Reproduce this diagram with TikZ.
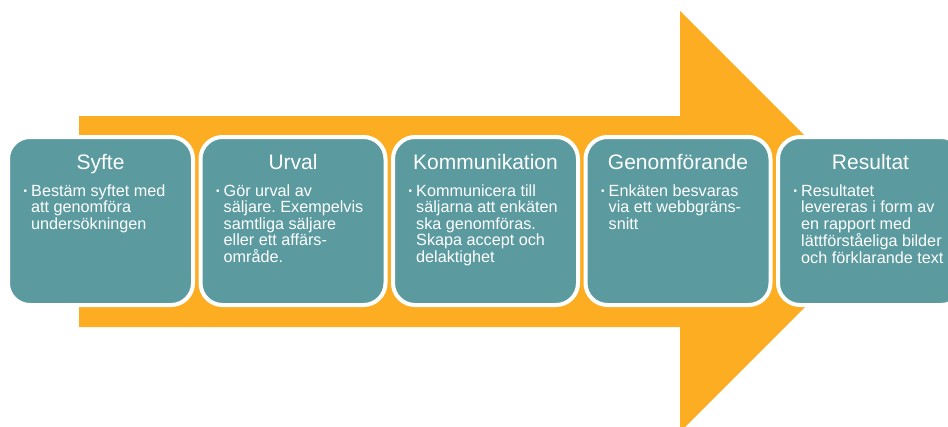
\documentclass[tikz,border=0pt]{standalone}
\usepackage{fontspec}
\setmainfont{Liberation Sans}
\frenchspacing
\definecolor{stepteal}{RGB}{91,155,160}
\definecolor{flowgold}{RGB}{252,173,33}
\newcommand\bodylines[1]{\vtop{\baselineskip=16.4pt #1}}
\tikzset{
  stepbox/.style={rectangle, rounded corners=22pt, fill=stepteal, draw=white,
    line width=4pt, minimum width=185pt, minimum height=168pt, inner sep=0pt},
  steptitle/.style={anchor=base, inner sep=0pt, text=white, font=\fontsize{21}{25}\selectfont},
  stepbody/.style={anchor=base west, inner sep=0pt, text=white, font=\fontsize{16.2}{16.4}\selectfont},
  stepdot/.style={anchor=base west, inner sep=0pt, text=white, font=\fontsize{10}{12}\selectfont}
}
\begin{document}
\begin{tikzpicture}[x=1pt,y=-1pt]
\clip (0,0) rectangle (948,426);
% big background arrow
\fill[flowgold] (79,116) -- (680,116) -- (680,11) -- (890.5,221.5)
  -- (680,432) -- (680,327) -- (79,327) -- cycle;
% the five steps
\node[stepbox] (box1) at (100.5,221) {};
\node[stepbox] (box2) at (293,221) {};
\node[stepbox] (box3) at (485.5,221) {};
\node[stepbox] (box4) at (678,221) {};
\node[stepbox] (box5) at (870.5,221) {};
% titles
\node[steptitle] (t1) at (100.5,169) {Syfte};
\node[steptitle] (t2) at (293,169) {Urval};
\node[steptitle] (t3) at (485.5,169) {Kommunikation};
\node[steptitle] (t4) at (678,169) {Genomförande};
\node[steptitle] (t5) at (870.5,169) {Resultat};
% bullets
\node[stepdot] (d1) at (23.5,194) {•};
\node[stepdot] (d2) at (216,194) {•};
\node[stepdot] (d3) at (408.5,194) {•};
\node[stepdot] (d4) at (601,194) {•};
\node[stepdot] (d5) at (793.5,194) {•};
% body texts
\node[stepbody] (b1) at (31,196.5) {\bodylines{\hbox{Bestäm syftet med}\hbox{att genomföra}\hbox{undersökningen}}};
\node[stepbody] (b2) at (223.5,196.5) {\bodylines{\hbox{Gör urval av}\hbox{säljare. Exempelvis}\hbox{samtliga säljare}\hbox{eller ett affärs-}\hbox{område.}}};
\node[stepbody] (b3) at (416,196.5) {\bodylines{\hbox{Kommunicera till}\hbox{säljarna att enkäten}\hbox{ska genomföras.}\hbox{Skapa accept och}\hbox{delaktighet}}};
\node[stepbody] (b4) at (608.5,196.5) {\bodylines{\hbox{Enkäten besvaras}\hbox{via ett webbgräns-}\hbox{snitt}}};
\node[stepbody] (b5) at (801,196.5) {\bodylines{\hbox{Resultatet}\hbox{levereras i form av}\hbox{en rapport med}\hbox{lättförståeliga bilder}\hbox{och förklarande text}}};
\end{tikzpicture}
\end{document}
